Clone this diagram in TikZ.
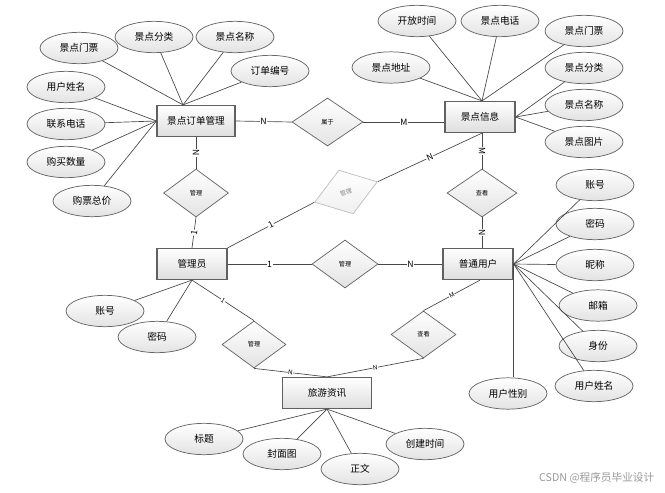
\documentclass[tikz,border=0pt]{standalone}
\usepackage{fontspec}
\setmainfont{Noto Sans CJK SC}
\usetikzlibrary{shapes.geometric}
\begin{document}
\begin{tikzpicture}[x=0.75pt,y=-0.75pt,
  ent/.style={rectangle,draw=black!62,line width=0.9pt,top color=white,bottom color=black!13,
    minimum width=52.5pt,minimum height=23.25pt,inner sep=0pt,font=\fontsize{7.2}{8}\selectfont},
  attr/.style={ellipse,draw=black!60,line width=0.55pt,top color=white,bottom color=black!11,
    minimum width=58.5pt,minimum height=23.5pt,inner sep=0pt,font=\fontsize{7.3}{8}\selectfont},
  rel/.style={diamond,draw=black!60,line width=0.55pt,top color=white,bottom color=black!11,
    minimum width=49.5pt,minimum height=36pt,inner sep=0pt,font=\fontsize{4.6}{5}\selectfont},
  faded/.style={diamond,draw=black!25,line width=0.55pt,top color=white,bottom color=black!6,
    minimum width=49.5pt,minimum height=34.5pt,inner sep=0pt,text=black!45,font=\fontsize{4.6}{5}\selectfont},
  conn/.style={draw=black!72,line width=0.5pt},
  lbl/.style={fill=white,inner sep=0.5pt,sloped,font=\fontsize{6.5}{7}\selectfont},
  slbl/.style={fill=white,inner sep=0.3pt,sloped,font=\fontsize{4.8}{5}\selectfont},
]
\useasboundingbox (0,0) rectangle (665,493);
% entities
\node[ent,minimum width=58.5pt] (o) at (196,121) {景点订单管理};
\node[ent] (s) at (480,117) {景点信息};
\node[ent] (m) at (192,264) {管理员};
\node[ent] (u) at (478,264) {普通用户};
\node[ent,minimum width=66.75pt] (t) at (327,393) {旅游资讯};
% relationships
\node[rel,minimum width=53.25pt] (r1) at (327.5,122) {属于};
\node[rel,minimum width=48.75pt] (r2) at (196,193) {管理};
\node[faded,rotate=18] (r3) at (346,192) {管理};
\node[rel] (r4) at (345,264) {管理};
\node[rel,minimum width=52.5pt] (r5) at (482,193) {查看};
\node[rel,minimum width=48pt,minimum height=35.25pt] (r6) at (254,344.5) {管理};
\node[rel,minimum width=48.75pt,minimum height=35.25pt] (r7) at (423.5,334.5) {查看};
% attributes of 景点订单管理
\node[attr] (o1) at (79,48) {景点门票};
\node[attr] (o2) at (154,37) {景点分类};
\node[attr] (o3) at (235,37) {景点名称};
\node[attr] (o4) at (270,71) {订单编号};
\node[attr] (o5) at (66,87) {用户姓名};
\node[attr] (o6) at (66,124) {联系电话};
\node[attr] (o7) at (66,162) {购买数量};
\node[attr] (o8) at (92,201) {购票总价};
% attributes of 景点信息
\node[attr] (s1) at (417,21) {开放时间};
\node[attr] (s2) at (500,21) {景点电话};
\node[attr] (s3) at (584,31) {景点门票};
\node[attr] (s4) at (391,67.5) {景点地址};
\node[attr] (s5) at (584,68) {景点分类};
\node[attr] (s6) at (584,105) {景点名称};
\node[attr] (s7) at (584,142) {景点图片};
% attributes of 普通用户
\node[attr] (u1) at (595,185) {账号};
\node[attr] (u2) at (595,224) {密码};
\node[attr] (u3) at (595,265) {昵称};
\node[attr] (u4) at (598,305.5) {邮箱};
\node[attr] (u5) at (598,346) {身份};
\node[attr] (u6) at (594,386) {用户姓名};
\node[attr] (u7) at (508,393.5) {用户性别};
% attributes of 管理员
\node[attr] (m1) at (105,311) {账号};
\node[attr] (m2) at (157,337) {密码};
% attributes of 旅游资讯
\node[attr] (t1) at (204,439) {标题};
\node[attr] (t2) at (282,454) {封面图};
\node[attr] (t3) at (360,469) {正文};
\node[attr] (t4) at (425,444) {创建时间};
% watermark
\node[anchor=east,text=black!40,font=\fontsize{8}{9}\selectfont] (wm) at (659,478) {CSDN @程序员毕业设计};
% attribute connectors
\coordinate (oT) at ([xshift=-9.75pt]o.north);
\foreach \a in {o1,o2,o3,o4} \draw[conn] (\a) -- (oT);
\foreach \a in {o5,o6,o7,o8} \draw[conn] (\a) -- (o.west);
\coordinate (sT) at ([xshift=1.5pt]s.north);
\foreach \a in {s1,s2,s3,s4} \draw[conn] (\a) -- (sT);
\foreach \a in {s5,s6,s7} \draw[conn] (\a) -- (s.east);
\foreach \a in {u1,u2,u3,u4,u5,u6} \draw[conn] (\a) -- (u.east);
\draw[conn] (u.east) -- (u.east |- u7.north);
\foreach \a in {m1,m2} \draw[conn] (\a) -- (m.south);
\foreach \a in {t1,t2,t3,t4} \draw[conn] (\a) -- (t.south);
% relationship connectors
\draw[conn] (o.east) -- node[lbl]{N} (r1.west);
\draw[conn] (r1.east) -- node[lbl]{M} (r1.east -| s.west);
\draw[conn] (o.south) -- node[lbl]{N} (r2.north);
\draw[conn] (r2.south) -- node[lbl]{1} (m.north);
\draw[conn] (m.north east) -- node[lbl]{1} (r3.west);
\draw[conn] (r3.east) -- node[lbl]{N} (r5.north |- s.south);
\draw[conn] (m.east) -- node[lbl]{1} (r4.west);
\draw[conn] (r4.east) -- node[lbl]{N} (u.west);
\draw[conn] (r5.north |- s.south) -- node[lbl]{M} (r5.north);
\draw[conn] (r5.south) -- node[lbl]{N} (r5.south |- u.north);
\draw[conn] (m.south) -- node[slbl]{1} (r6.north);
\draw[conn] (r6.south) -- node[slbl]{N} (t.north);
\draw[conn] ([xshift=1.5pt]u.south) -- node[slbl]{M} (r7.north);
\draw[conn] (r7.south) -- node[slbl]{N} (t.north);
\end{tikzpicture}
\end{document}
